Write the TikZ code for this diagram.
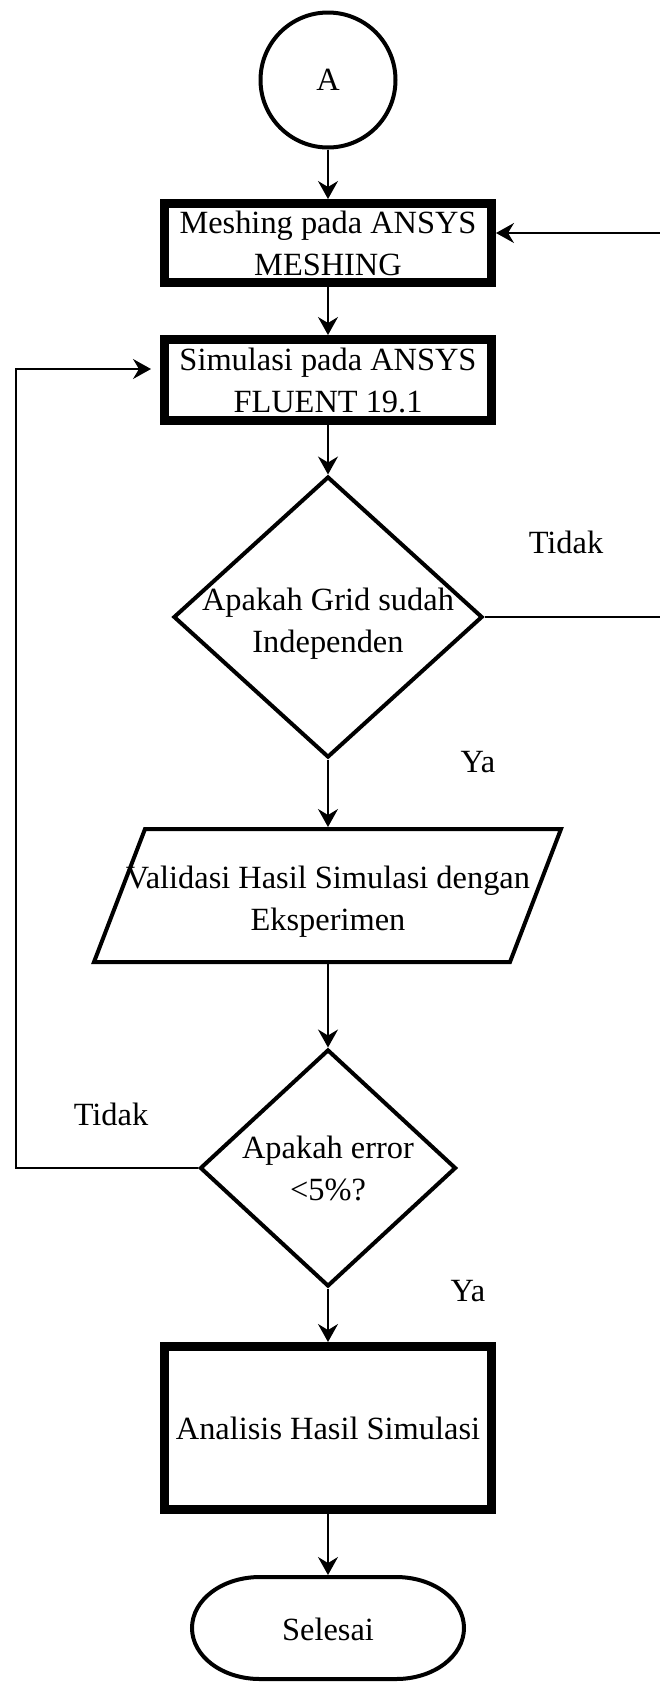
\documentclass[tikz,border=0pt]{standalone}
\usepackage{fontspec}
\setmainfont{Liberation Serif}
\usetikzlibrary{arrows.meta,shapes.geometric}
\begin{document}
\begin{tikzpicture}[x=1pt,y=-1pt,
  txt/.style={font=\fontsize{32.4}{42}\selectfont, align=center, inner sep=0pt},
  thickbox/.style={draw, line width=9pt, rectangle, inner sep=0pt, txt},
  shapeline/.style={draw, line width=4pt},
  conn/.style={line width=1.8pt, -{Stealth[length=18pt,width=20pt,inset=6pt]}},
  ghost/.style={inner sep=0pt, outer sep=0pt}]
\useasboundingbox (0,0) rectangle (659,1682);

% nodes
\node[circle, shapeline, minimum size=135pt, inner sep=0pt, txt] (a) at (328,80) {A};
\node[thickbox, minimum width=327pt, minimum height=79pt] (mesh) at (328,243) {Meshing pada ANSYS\\MESHING};
\node[thickbox, minimum width=327pt, minimum height=81pt] (sim) at (328,380) {Simulasi pada ANSYS\\FLUENT 19.1};

\node[diamond, shapeline, minimum width=309pt, minimum height=281pt, inner sep=0pt] (d1) at (328,617) {};
\node[txt] (d1t) at (328,624) {Apakah Grid sudah\\Independen};

\node[ghost, minimum width=420pt, minimum height=137pt] (val) at (328,895.5) {};
\draw[shapeline] (145,829) -- (561,829) -- (510,962) -- (94,962) -- cycle;
\node[txt] (valt) at (328,901.5) {Validasi Hasil Simulasi dengan\\Eksperimen};

\node[diamond, shapeline, minimum width=256pt, minimum height=237pt, inner sep=0pt] (d2) at (328,1168) {};
\node[txt] (d2t) at (328,1168.5) {Apakah error\\<5\%?};

\node[thickbox, minimum width=327pt, minimum height=163pt] (ana) at (328,1428) {Analisis Hasil Simulasi};

\node[ghost, minimum width=276pt, minimum height=106pt] (sel) at (328,1628) {};
\draw[shapeline] (260,1577) -- (396,1577) .. controls (434,1577) and (464,1600) .. (464,1628)
  .. controls (464,1656) and (434,1679) .. (396,1679) -- (260,1679)
  .. controls (222,1679) and (192,1656) .. (192,1628)
  .. controls (192,1600) and (222,1577) .. (260,1577) -- cycle;
\node[txt, anchor=base] (selt) at (328,1640) {Selesai};

% connectors
\draw[conn] (a.south) -- (mesh.north);
\draw[conn] (mesh.south) -- (sim.north);
\draw[conn] (sim.south) -- (d1.north);
\draw[conn] (d1.south) -- (val.north);
\draw[conn] (val.south) -- (d2.north);
\draw[conn] (d2.south) -- (ana.north);
\draw[conn] (ana.south) -- (sel.north);

\coordinate (r1) at (672,617);
\coordinate (r2) at (672,233);
\draw[conn] (d1.east) -- (r1) -- (r2) -- (r2 -| mesh.east);

\coordinate (l1) at (16,1168);
\coordinate (l2) at (16,369);
\draw[conn, shorten >=9pt] (d2.west) -- (l1) -- (l2) -- (l2 -| sim.west);

% labels
\node[txt, anchor=base] (t1) at (566,553) {Tidak};
\node[txt, anchor=base] (y1) at (478,772) {Ya};
\node[txt, anchor=base] (t2) at (111,1125) {Tidak};
\node[txt, anchor=base] (y2) at (468,1301) {Ya};
\end{tikzpicture}
\end{document}
